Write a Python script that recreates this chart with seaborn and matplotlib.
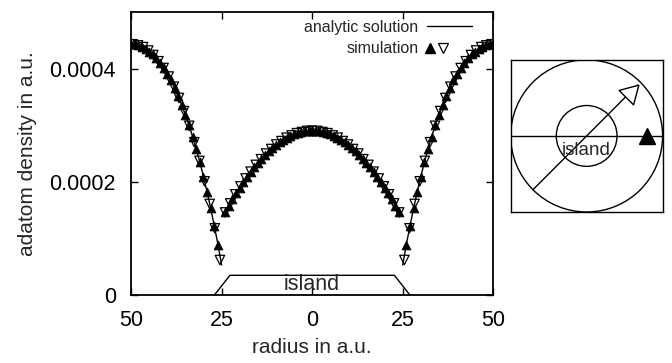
import numpy as np
import pandas as pd
import seaborn as sns
import matplotlib
matplotlib.use('Agg')
import matplotlib.pyplot as plt
from matplotlib.patches import Circle
from matplotlib.lines import Line2D
from matplotlib.legend_handler import HandlerTuple

# analytic solution (radius in a.u., density in 1e-4 a.u.)
r_in = [0, 2, 4, 6, 8, 10, 12, 14, 16, 18, 20, 22, 24, 24.5]
n_in = [2.90, 2.89, 2.86, 2.81, 2.74, 2.65, 2.54, 2.41, 2.26, 2.09, 1.90, 1.69, 1.46, 1.40]
r_out = [25, 26, 27, 28, 29, 30, 31, 32, 33, 34, 35, 36, 37, 38,
         39, 40, 41, 42, 43, 44, 45, 46, 47, 48, 49, 50]
n_out = [0.53, 0.89, 1.22, 1.53, 1.82, 2.09, 2.35, 2.58, 2.80, 3.00, 3.18, 3.36, 3.51, 3.66,
         3.79, 3.90, 4.01, 4.10, 4.18, 4.25, 4.30, 4.35, 4.39, 4.41, 4.43, 4.43]

# simulation, horizontal cut (filled triangles)
r_hor = [0, 1, 2, 3, 4, 5, 6, 7, 8, 9, 10, 11, 12, 13, 14, 15, 16, 17, 18, 19, 20, 21, 22, 23, 24,
         26, 27, 28, 29, 30, 31, 32, 33, 34, 35, 36, 37, 38, 39, 40, 41, 42, 43, 44, 45, 46, 47, 48, 49, 50]
n_hor = [2.90, 2.90, 2.89, 2.88, 2.86, 2.84, 2.81, 2.78, 2.74, 2.70, 2.65, 2.60, 2.54, 2.48, 2.41,
         2.34, 2.26, 2.18, 2.09, 2.00, 1.90, 1.80, 1.69, 1.58, 1.46,
         0.89, 1.22, 1.53, 1.82, 2.09, 2.35, 2.58, 2.80, 3.00, 3.18, 3.36, 3.51, 3.66, 3.79,
         3.90, 4.01, 4.10, 4.18, 4.25, 4.30, 4.35, 4.39, 4.41, 4.43, 4.43]

# simulation, diagonal cut (open triangles)
r_diag = [0, 1.41, 2.83, 4.24, 5.66, 7.07, 8.49, 9.90, 11.31, 12.73, 14.14, 15.56, 16.97,
          18.38, 19.80, 21.21, 22.63, 24.04,
          25.46, 26.87, 28.28, 29.70, 31.11, 32.53, 33.94, 35.36, 36.77, 38.18, 39.60,
          41.01, 42.43, 43.84, 45.25, 46.67, 48.08, 49.50]
n_diag = [2.90, 2.90, 2.88, 2.86, 2.82, 2.78, 2.72, 2.66, 2.58, 2.50, 2.40, 2.30, 2.18,
          2.06, 1.92, 1.78, 1.62, 1.46,
          0.62, 1.18, 1.61, 2.01, 2.37, 2.70, 2.99, 3.25, 3.48, 3.68, 3.86,
          4.01, 4.13, 4.24, 4.32, 4.38, 4.41, 4.43]

# island outline under the axis
island_x = [-27, -22.7, 22.7, 27]
island_y = [0, 0.35, 0.35, 0]

scale = 1e-4

sns.set_style("ticks")
plt.rcParams['font.family'] = ['Liberation Sans', 'DejaVu Sans']

fig = plt.figure(figsize=(6.72, 3.63), dpi=100)
ax = fig.add_axes([0.195, 0.187, 0.539, 0.780])

# analytic curve: inner part across 0, outer part on both sides
ri = np.array(r_in)
ro = np.array(r_out)
lines = pd.DataFrame({
    "r": np.concatenate([-ri[::-1], ri, -ro[::-1], ro]),
    "n": np.concatenate([n_in[::-1], n_in, n_out[::-1], n_out]) * scale,
    "seg": ["in"] * (2 * len(ri)) + ["left"] * len(ro) + ["right"] * len(ro),
})
sns.lineplot(data=lines, x="r", y="n", units="seg", estimator=None, sort=False,
             color="black", lw=1.0, ax=ax)

rh = np.array(r_hor)
sns.scatterplot(x=np.concatenate([-rh, rh]), y=np.array(n_hor + n_hor) * scale,
                marker="^", s=40, color="black", edgecolor="black", linewidth=0.6, ax=ax, zorder=3)
rd = np.array(r_diag)
sns.scatterplot(x=np.concatenate([-rd, rd]), y=np.array(n_diag + n_diag) * scale,
                marker="v", s=46, facecolor="none", edgecolor="black", linewidth=0.9, ax=ax, zorder=4)

ax.plot(island_x, np.array(island_y) * scale, color="black", lw=1.0, clip_on=False)
ax.text(0, 0.19 * scale, "island", ha="center", va="center", fontsize=15.5)

ax.set_xlim(-50, 50)
ax.set_ylim(0, 0.0005)
ax.set_xticks([-50, -25, 0, 25, 50])
ax.set_xticklabels(["50", "25", "0", "25", "50"])
ax.set_yticks([0, 0.0002, 0.0004])
ax.set_yticklabels(["0", "0.0002", "0.0004"])
ax.tick_params(direction="in", top=True, right=True, length=5, width=1.0,
               labelsize=15.5, colors="black")
ax.tick_params(axis="y", pad=11)
ax.tick_params(axis="x", pad=11)
for sp in ax.spines.values():
    sp.set_visible(True)
    sp.set_linewidth(1.3)
    sp.set_color("black")
ax.set_xlabel("radius in a.u.", fontsize=15, labelpad=5)
ax.set_ylabel("adatom density in a.u.", fontsize=15)
ax.yaxis.set_label_coords(-0.260, 0.5)

h_line = Line2D([], [], color="black", lw=1.0)
h_up = Line2D([], [], color="black", marker="^", ls="none", ms=6.5)
h_dn = Line2D([], [], color="black", marker="v", ls="none", ms=7.5, mfc="none", mew=0.9)
ax.legend([h_line, (h_up, h_dn)], ["analytic solution", "simulation"],
          handler_map={tuple: HandlerTuple(ndivide=4, pad=0.55)},
          markerfirst=False, frameon=False, loc="upper right", fontsize=11.5,
          handlelength=2.8, handletextpad=0.55, labelspacing=0.4,
          borderaxespad=0.0, bbox_to_anchor=(0.959, 0.995))

# inset sketch of the two cuts
ins = fig.add_axes([0.760, 0.416, 0.226, 0.419])
ins.set_xlim(-1, 1)
ins.set_ylim(-1, 1)
ins.set_xticks([])
ins.set_yticks([])
for sp in ins.spines.values():
    sp.set_linewidth(1.0)
    sp.set_color("black")
ins.add_patch(Circle((0, 0), 1.0, fill=False, lw=1.0, color="black"))
ins.add_patch(Circle((0, 0), 0.4, fill=False, lw=1.0, color="black"))
ins.plot([-1, 1], [0, 0], color="black", lw=1.0)
ins.plot([-0.707, 0.67], [-0.707, 0.67], color="black", lw=1.0)
ins.plot([0.57], [0.57], marker=(3, 0, -45), ms=17, mfc="white", mec="black", mew=1.0)
ins.plot([0.80], [0.0], marker="^", ms=12, color="black")
ins.text(0, -0.19, "island", ha="center", va="center", fontsize=13.5)

plt.savefig("out.png", dpi=100)
plt.close()
